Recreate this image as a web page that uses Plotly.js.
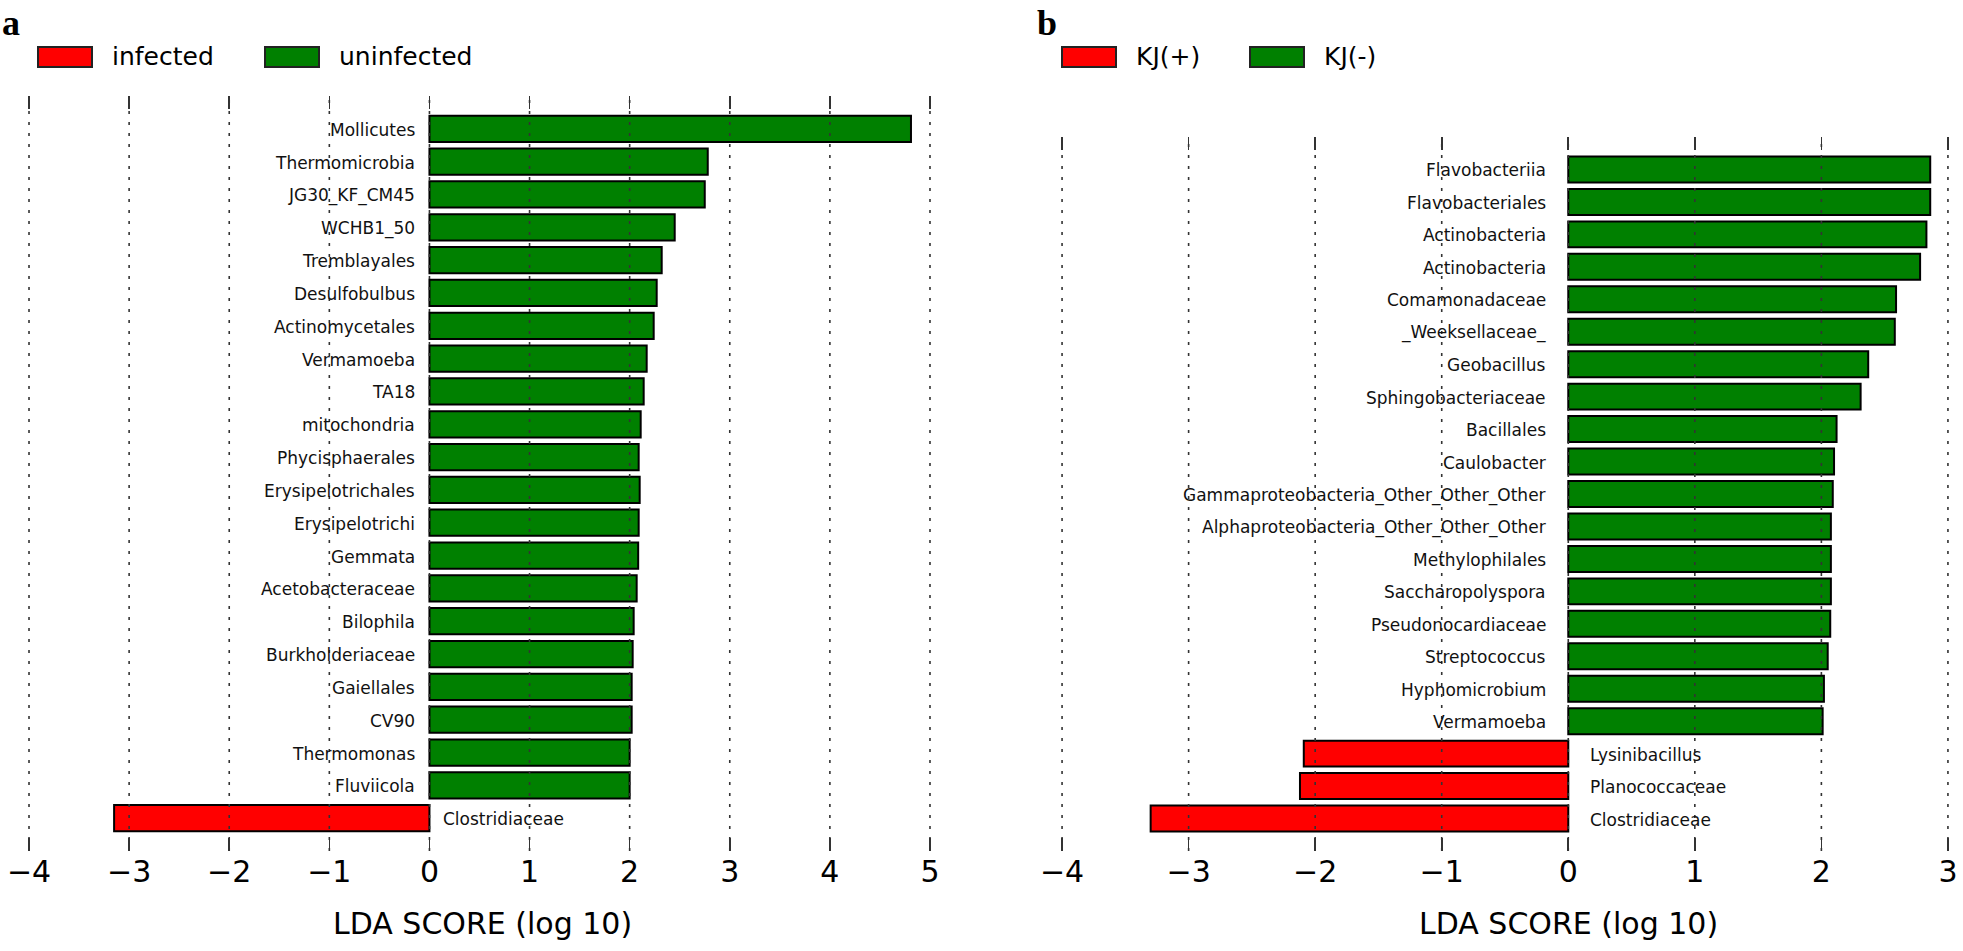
<!DOCTYPE html>
<html>
<head>
<meta charset="utf-8">
<script src="https://cdn.plot.ly/plotly-3.0.1.min.js"></script>
<style>
  body { margin: 0; background: #fff; }
  #chart { width: 1963px; height: 951px; }
</style>
</head>
<body>
<div id="chart"></div>
<script>
// panel a : infected vs uninfected (top to bottom)
var taxaA = ['Mollicutes', 'Thermomicrobia', 'JG30_KF_CM45', 'WCHB1_50', 'Tremblayales',
  'Desulfobulbus', 'Actinomycetales', 'Vermamoeba', 'TA18', 'mitochondria',
  'Phycisphaerales', 'Erysipelotrichales', 'Erysipelotrichi', 'Gemmata', 'Acetobacteraceae',
  'Bilophila', 'Burkholderiaceae', 'Gaiellales', 'CV90', 'Thermomonas', 'Fluviicola',
  'Clostridiaceae'];
var ldaA = [4.81, 2.78, 2.75, 2.45, 2.32, 2.27, 2.24, 2.17, 2.14, 2.11,
  2.09, 2.10, 2.09, 2.085, 2.07, 2.04, 2.03, 2.02, 2.02, 2.00, 2.00,
  -3.15];
var groupsA = ['infected', 'uninfected'];

// panel b : KJ(+) vs KJ(-) (top to bottom)
var taxaB = ['Flavobacteriia', 'Flavobacteriales', 'Actinobacteria', 'Actinobacteria',
  'Comamonadaceae', '_Weeksellaceae_', 'Geobacillus', 'Sphingobacteriaceae', 'Bacillales',
  'Caulobacter', 'Gammaproteobacteria_Other_Other_Other', 'Alphaproteobacteria_Other_Other_Other',
  'Methylophilales', 'Saccharopolyspora', 'Pseudonocardiaceae', 'Streptococcus',
  'Hyphomicrobium', 'Vermamoeba', 'Lysinibacillus', 'Planococcaceae', 'Clostridiaceae'];
var ldaB = [2.86, 2.86, 2.83, 2.78, 2.59, 2.58, 2.37, 2.31, 2.12, 2.10,
  2.09, 2.075, 2.075, 2.075, 2.07, 2.05, 2.02, 2.01,
  -2.09, -2.12, -3.30];
var groupsB = ['KJ(+)', 'KJ(-)'];

var ticksA = [-4, -3, -2, -1, 0, 1, 2, 3, 4, 5];
var ticksB = [-4, -3, -2, -1, 0, 1, 2, 3];

var W = 1963, H = 951;
var RED = '#ff0000', GREEN = '#008000';
function px(x) { return x / W; }
function py(y) { return 1 - y / H; }

function barTrace(taxa, lda, xa, ya) {
  return {
    type: 'bar',
    orientation: 'h',
    x: lda,
    y: taxa.map(function (t, i) { return i; }),
    width: 0.8,
    xaxis: xa,
    yaxis: ya,
    marker: {
      color: lda.map(function (v) { return v < 0 ? RED : GREEN; }),
      line: { color: '#000', width: 2 }
    },
    hoverinfo: 'x',
    showlegend: false
  };
}

function taxaLabels(taxa, lda, xr, yr, size, gap) {
  return taxa.map(function (t, i) {
    var neg = lda[i] < 0;
    return {
      x: 0, y: i, xref: xr, yref: yr,
      text: t, showarrow: false,
      xanchor: neg ? 'left' : 'right',
      xshift: neg ? gap : -gap,
      yshift: -1,
      font: { family: 'DejaVu Sans', size: size, color: '#111' }
    };
  });
}

function gridShapes(ticks, xr, yr) {
  return ticks.map(function (t) {
    return {
      type: 'line', xref: xr, yref: yr + ' domain',
      x0: t, x1: t, y0: 0, y1: 1,
      layer: 'above',
      line: { color: '#333', width: 1.6, dash: '3px,8px' }
    };
  });
}

function legend(x0, groups, gap) {
  // colour swatches + labels for one panel
  var shapes = [], notes = [];
  var x = x0;
  groups.forEach(function (g, k) {
    shapes.push({
      type: 'rect', xref: 'paper', yref: 'paper',
      x0: px(x), x1: px(x + 54), y0: py(67), y1: py(47),
      fillcolor: k === 0 ? RED : GREEN,
      line: { color: '#222', width: 2 }
    });
    notes.push({
      xref: 'paper', yref: 'paper', x: px(x + 72), y: py(57),
      xanchor: 'left', yanchor: 'middle', showarrow: false,
      text: g, font: { family: 'DejaVu Sans', size: 25, color: '#000' }
    });
    x += gap[k];
  });
  return { shapes: shapes, notes: notes };
}

var xaxisBase = {
  showgrid: false, zeroline: false, showline: false,
  ticks: 'inside', ticklen: 13, tickwidth: 1.6, tickcolor: '#333',
  mirror: 'ticks',
  tickfont: { family: 'DejaVu Sans', size: 30, color: '#000' },
  fixedrange: true
};
var yaxisBase = {
  showgrid: false, zeroline: false, showline: false,
  showticklabels: false, ticks: '', fixedrange: true
};

var legA = legend(38, groupsA, [227, 0]);
var legB = legend(1062, groupsB, [188, 0]);

var layout = {
  width: W, height: H,
  margin: { l: 0, r: 0, t: 0, b: 0 },
  paper_bgcolor: '#fff', plot_bgcolor: '#fff',
  bargap: 0,
  xaxis: Object.assign({}, xaxisBase, {
    domain: [px(24), px(935)], range: [-4.05, 5.05],
    tickvals: ticksA, anchor: 'y'
  }),
  yaxis: Object.assign({}, yaxisBase, {
    domain: [py(851), py(96)], range: [taxaA.length, -1], anchor: 'x'
  }),
  xaxis2: Object.assign({}, xaxisBase, {
    domain: [px(1057), px(1953)], range: [-4.04, 3.04],
    tickvals: ticksB, anchor: 'y2'
  }),
  yaxis2: Object.assign({}, yaxisBase, {
    domain: [py(851), py(137)], range: [taxaB.length, -1], anchor: 'x2'
  }),
  shapes: gridShapes(ticksA, 'x', 'y')
    .concat(gridShapes(ticksB, 'x2', 'y2'))
    .concat(legA.shapes, legB.shapes),
  annotations: taxaLabels(taxaA, ldaA, 'x', 'y', 17, 12)
    .concat(taxaLabels(taxaB, ldaB, 'x2', 'y2', 17, 20))
    .concat(legA.notes, legB.notes)
    .concat([
      { xref: 'paper', yref: 'paper', x: px(0), y: py(1), xanchor: 'left', yanchor: 'top',
        showarrow: false, text: '<b>a</b>',
        font: { family: 'Liberation Serif', size: 36, color: '#000' } },
      { xref: 'paper', yref: 'paper', x: px(1035), y: py(1), xanchor: 'left', yanchor: 'top',
        showarrow: false, text: '<b>b</b>',
        font: { family: 'Liberation Serif', size: 36, color: '#000' } },
      { xref: 'paper', yref: 'paper', x: px(482), y: py(923), xanchor: 'center', yanchor: 'middle',
        showarrow: false, text: 'LDA SCORE (log 10)',
        font: { family: 'DejaVu Sans', size: 30, color: '#000' } },
      { xref: 'paper', yref: 'paper', x: px(1568), y: py(923), xanchor: 'center', yanchor: 'middle',
        showarrow: false, text: 'LDA SCORE (log 10)',
        font: { family: 'DejaVu Sans', size: 30, color: '#000' } }
    ])
};

var data = [
  barTrace(taxaA, ldaA, 'x', 'y'),
  barTrace(taxaB, ldaB, 'x2', 'y2')
];

Plotly.newPlot('chart', data, layout, { displayModeBar: false, staticPlot: true });
</script>
</body>
</html>
